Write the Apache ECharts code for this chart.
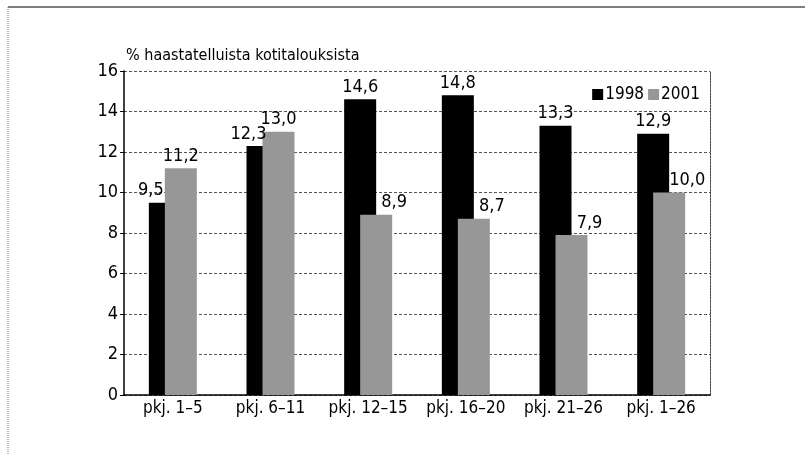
<!DOCTYPE html>
<html>
<head>
<meta charset="utf-8">
<script src="https://cdn.jsdelivr.net/npm/echarts@6/dist/echarts.min.js"></script>
<style>
  html, body { margin: 0; padding: 0; background: #fff; }
  #chart { width: 805px; height: 454px; }
</style>
</head>
<body>
<div id="chart"></div>
<script>
// data
const categories = ["pkj. 1–5", "pkj. 6–11", "pkj. 12–15", "pkj. 16–20", "pkj. 21–26", "pkj. 1–26"];
const values1998 = [9.5, 12.3, 14.6, 14.8, 13.3, 12.9];
const values2001 = [11.2, 13.0, 8.9, 8.7, 7.9, 10.0];
const seriesNames = ["1998", "2001"];
const yTitle = "% haastatelluista kotitalouksista";

const FONT = '"Liberation Sans Narrow", "DejaVu Sans Condensed", "Open Sans", sans-serif';
const fmt = v => v.toFixed(1).replace(".", ",");

const chart = echarts.init(document.getElementById("chart"));

// labels move aside where the neighbouring bar would hide them
const data1998 = values1998.map((v, i) => ({
  value: v,
  label: values2001[i] > v ? { offset: [-14, 0] } : {}
}));
const data2001 = values2001.map((v, i) => ({
  value: v,
  label: v < values1998[i] ? { offset: [18, 0] } : {}
}));

const option = {
  animation: false,
  textStyle: { fontFamily: FONT },
  title: {
    text: yTitle,
    left: 121,
    top: 43,
    textStyle: { fontFamily: FONT, fontSize: 16, fontWeight: "normal", color: "#000" }
  },
  legend: {
    data: seriesNames,
    right: 100,
    top: 81,
    itemWidth: 11,
    itemHeight: 11,
    itemGap: 4,
    icon: "rect",
    textStyle: { fontFamily: FONT, fontSize: 17, color: "#000", padding: [0, 0, 0, -3] }
  },
  grid: { left: 124, right: 95, top: 71, bottom: 59 },
  xAxis: {
    type: "category",
    data: categories,
    axisLine: { lineStyle: { color: "#000", width: 1.5 } },
    axisTick: { show: false },
    axisLabel: { color: "#000", fontFamily: FONT, fontSize: 17, margin: 5, interval: 0 }
  },
  yAxis: [
    {
      type: "value",
      min: 0,
      max: 16,
      interval: 2,
      axisLine: { show: true, lineStyle: { color: "#000", width: 1.5 } },
      axisTick: { show: true, length: 4, lineStyle: { color: "#000" } },
      axisLabel: { color: "#000", fontFamily: FONT, fontSize: 18, margin: 6 },
      splitLine: { lineStyle: { color: "#555", type: [3, 2], width: 1 } }
    },
    {
      type: "value",
      min: 0,
      max: 16,
      interval: 2,
      position: "right",
      axisLine: { show: true, lineStyle: { color: "#444", type: [2, 1], width: 1 } },
      axisTick: { show: false },
      axisLabel: { show: false },
      splitLine: { show: false }
    }
  ],
  series: [
    {
      name: seriesNames[0],
      type: "bar",
      data: data1998,
      barWidth: 32,
      barGap: "-50%",
      itemStyle: { color: "#000" },
      label: {
        show: true,
        position: "top",
        distance: 3,
        color: "#000",
        fontFamily: FONT,
        fontSize: 18,
        formatter: p => fmt(p.value)
      }
    },
    {
      name: seriesNames[1],
      type: "bar",
      data: data2001,
      barWidth: 32,
      barGap: "-50%",
      itemStyle: { color: "#979797" },
      label: {
        show: true,
        position: "top",
        distance: 3,
        color: "#000",
        fontFamily: FONT,
        fontSize: 18,
        formatter: p => fmt(p.value)
      }
    }
  ],
  graphic: [
    { type: "line", shape: { x1: 8, y1: 7, x2: 805, y2: 7 }, style: { stroke: "#555", lineWidth: 1.5 } },
    { type: "line", shape: { x1: 8, y1: 7, x2: 8, y2: 454 }, style: { stroke: "#777", lineWidth: 1, lineDash: [1, 1] } }
  ]
};

chart.setOption(option);
</script>
</body>
</html>
